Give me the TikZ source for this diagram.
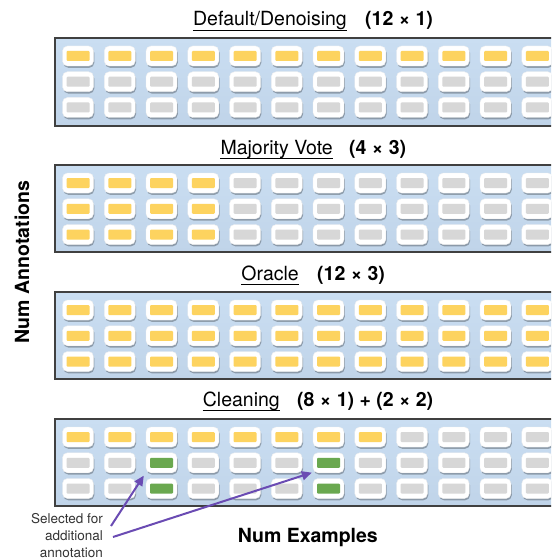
\documentclass[tikz,border=0pt]{standalone}
\usepackage{fontspec}
\setmainfont{TeX Gyre Heros}
\usetikzlibrary{arrows.meta,shadows,calc}

\definecolor{panelhi}{HTML}{CADEF2}
\definecolor{panello}{HTML}{C0D4E9}
\definecolor{annyes}{HTML}{FDD35F}
\definecolor{annno}{HTML}{D7D7D7}
\definecolor{annnew}{HTML}{6AA84F}
\definecolor{pointerpurple}{HTML}{6A4BB3}

\tikzset{
  cellbox/.style={rectangle, rounded corners=5pt, fill=white, draw=black!6,
    minimum width=31pt, minimum height=20pt, inner sep=0pt,
    drop shadow={shadow xshift=0.8pt, shadow yshift=-1.8pt, fill=black, opacity=0.28}},
  annbox/.style={rectangle, rounded corners=1pt, minimum width=23pt,
    minimum height=10pt, inner sep=0pt},
  panel/.style={draw=black!75, line width=1.2pt, top color=panelhi, bottom color=panello},
  ttl/.style={inner sep=0pt, font=\fontsize{19.5}{23}\selectfont},
  ttlnum/.style={inner sep=0pt, font=\fontsize{19.5}{23}\selectfont\bfseries},
  uline/.style={line width=1.2pt},
  axislbl/.style={inner sep=0pt, font=\fontsize{19.5}{23}\selectfont\bfseries},
  note/.style={inner sep=0pt, align=right, text=black!80, font=\fontsize{13.5}{17}\selectfont},
  pointer/.style={draw=pointerpurple, line width=2pt, -{Triangle[length=10pt,width=9pt]}},
}

% panel, column, row, panel top, colour
\newcommand{\annocell}[5]{%
  \node[cellbox] (#1-#2-#3) at ({78+41.75*#2},{#4+18+25.75*#3}) {};
  \node[annbox, fill=#5] at (#1-#2-#3) {};
}

\begin{document}
\begin{tikzpicture}[x=1pt, y=-1pt]
        \useasboundingbox (0,0) rectangle (551,559);
        \clip (0,0) rectangle (551,559);

        % Default/Denoising
        \draw[panel] (55,38) rectangle (580,126);                     %
        \foreach \c in {0,...,11} {
          \annocell{d}{\c}{0}{38}{annyes}
          \annocell{d}{\c}{1}{38}{annno}
          \annocell{d}{\c}{2}{38}{annno}
        }
        \node[ttl, anchor=base east] (td) at (347,26) {Default/Denoising}; %
        \draw[uline] ([yshift=-4.5pt]td.base west) -- ([yshift=-4.5pt]td.base east);
        \node[ttlnum, anchor=base west] (nd) at (365,26) {(12 × 1)};     %

        % Majority Vote
        \draw[panel] (55,165) rectangle (580,252);                    %
        \foreach \c in {0,...,3} \foreach \r in {0,1,2} {\annocell{m}{\c}{\r}{165}{annyes}}
        \foreach \c in {4,...,11} \foreach \r in {0,1,2} {\annocell{m}{\c}{\r}{165}{annno}}
        \node[ttl, anchor=base east] (tm) at (333,154) {Majority Vote};  %
        \draw[uline] ([yshift=-4.5pt]tm.base west) -- ([yshift=-4.5pt]tm.base east);
        \node[ttlnum, anchor=base west] (nm) at (349,154) {(4 × 3)};      %

        % Oracle
        \draw[panel] (55,292) rectangle (580,379);                    %
        \foreach \c in {0,...,11} \foreach \r in {0,1,2} {\annocell{o}{\c}{\r}{292}{annyes}}
        \node[ttl, anchor=base east] (to) at (299,280) {Oracle};         %
        \draw[uline] ([yshift=-4.5pt]to.base west) -- ([yshift=-4.5pt]to.base east);
        \node[ttlnum, anchor=base west] (no) at (317,280) {(12 × 3)};     %

        % Cleaning
        \draw[panel] (55,419) rectangle (580,506);                    %
        \foreach \c in {0,...,7} {\annocell{k}{\c}{0}{419}{annyes}}
        \foreach \c in {8,...,11} {\annocell{k}{\c}{0}{419}{annno}}
        \foreach \c in {0,1,3,4,5,7,8,9,10,11} \foreach \r in {1,2} {\annocell{k}{\c}{\r}{419}{annno}}
        \foreach \c in {2,6} \foreach \r in {1,2} {\annocell{k}{\c}{\r}{419}{annnew}}
        \node[ttl, anchor=base east] (tk) at (280,406) {Cleaning};       %
        \draw[uline] ([yshift=-4.5pt]tk.base west) -- ([yshift=-4.5pt]tk.base east);
        \node[ttlnum, anchor=base west] (nk) at (297,406) {(8 × 1) + (2 × 2)}; %

        % axes
        \node[axislbl, rotate=90] (ya) at (22,262) {Num Annotations};    %
        \node[axislbl, anchor=base east] (xa) at (378,542) {Num Examples}; %

        % note
        \node[note, anchor=north east] (sel) at (103,513) {Selected for\\additional\\annotation};
        \coordinate (tail1) at (111,526);
        \coordinate (tail2) at (113,537);
        \coordinate (tip1) at ($(k-2-1.west)!0.5!(k-2-2.west)+(-2,0)$);
        \coordinate (tip2) at ($(k-6-1.west)!0.5!(k-6-2.west)+(-1,-3)$);
        \draw[pointer] (tail1) -- (tip1);                             %
        \draw[pointer] (tail2) -- (tip2);                             %
\end{tikzpicture}
\end{document}
